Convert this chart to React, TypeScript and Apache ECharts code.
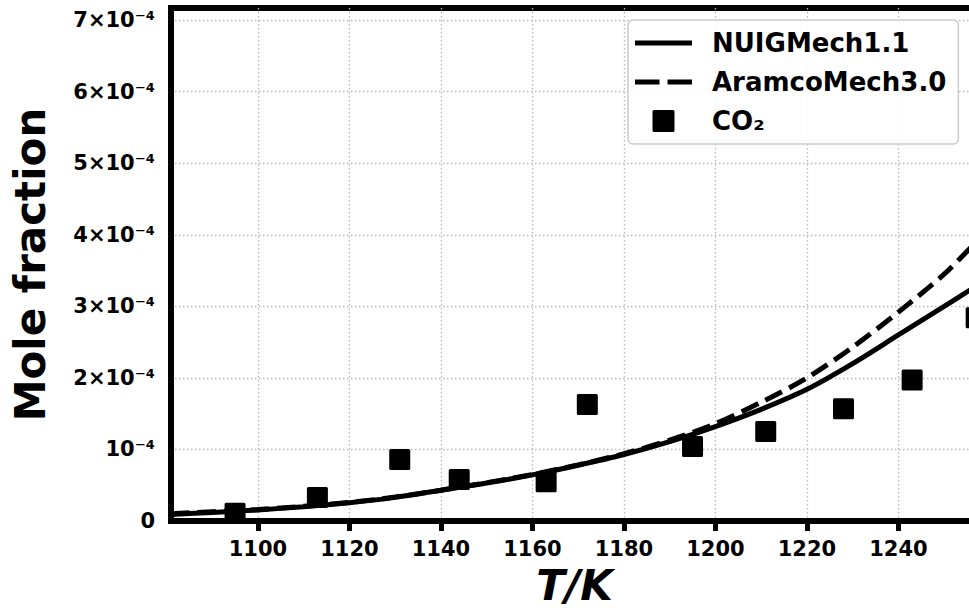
import React, { useEffect, useRef } from 'react';
import * as echarts from 'echarts';

// Model curves (temperature in K, mole fraction)
const modelT = [1081, 1090, 1100, 1110, 1120, 1130, 1140, 1150, 1160, 1170, 1180, 1190, 1200, 1210, 1220, 1230, 1240, 1250, 1257.4];
const nuigMech = [0.09e-4, 0.12e-4, 0.155e-4, 0.2e-4, 0.255e-4, 0.33e-4, 0.43e-4, 0.53e-4, 0.645e-4, 0.78e-4, 0.93e-4, 1.11e-4, 1.32e-4, 1.56e-4, 1.84e-4, 2.2e-4, 2.6e-4, 3.0e-4, 3.3e-4];
const aramcoMech = [0.1e-4, 0.13e-4, 0.16e-4, 0.205e-4, 0.26e-4, 0.335e-4, 0.43e-4, 0.535e-4, 0.65e-4, 0.785e-4, 0.94e-4, 1.13e-4, 1.36e-4, 1.66e-4, 2.0e-4, 2.43e-4, 2.92e-4, 3.45e-4, 3.93e-4];

// Experimental CO2
const co2T = [1095, 1113, 1131, 1144, 1163, 1172, 1195, 1211, 1228, 1243, 1257];
const co2 = [0.11e-4, 0.33e-4, 0.86e-4, 0.58e-4, 0.55e-4, 1.63e-4, 1.04e-4, 1.25e-4, 1.57e-4, 1.97e-4, 2.84e-4];

// Axes
const xTicks = [1100, 1120, 1140, 1160, 1180, 1200, 1220, 1240];
const yTicks = [0, 1e-4, 2e-4, 3e-4, 4e-4, 5e-4, 6e-4, 7e-4];
const yTickLabels = ['0', '10⁻⁴', '2×10⁻⁴', '3×10⁻⁴', '4×10⁻⁴', '5×10⁻⁴', '6×10⁻⁴', '7×10⁻⁴'];
const xRange = [1081, 1257.4];
const yRange = [0, 7.17e-4];

const seriesNames = ['NUIGMech1.1', 'AramcoMech3.0', 'CO₂'];

const FONT = 'DejaVu Sans';

// legend handle shapes (tiny corner specks fix the bounding box to 57x19)
const CORNERS = 'M0,0L0.01,0L0,0.01Z M57,19L56.99,19L57,18.99Z ';
const SOLID_ICON = 'path://' + CORNERS + 'M0,7L57,7L57,12L0,12Z';
const DASHED_ICON = 'path://' + CORNERS + 'M0,7L24.5,7L24.5,12L0,12Z M32.5,7L57,7L57,12L32.5,12Z';
const SQUARE_ICON = 'path://M0,0L10,0L10,10L0,10Z';

export default function App() {
  const ref = useRef<HTMLDivElement>(null);
  useEffect(() => {
    if (!ref.current) return;
    const chart = echarts.init(ref.current, undefined, { renderer: 'svg' });
    const gridLine = { show: true, lineStyle: { color: '#b8b8b8', width: 1.3, type: [1.5, 2.5] } };
    chart.setOption({
      animation: false,
      backgroundColor: '#ffffff',
      grid: {
        left: 171,
        right: 2,
        top: 8,
        bottom: 89,
        show: true,
        borderColor: '#000',
        borderWidth: 6,
        backgroundColor: 'transparent',
        containLabel: false,
        outerBoundsMode: 'none',
      },
      xAxis: {
        type: 'value',
        min: xRange[0],
        max: xRange[1],
        name: 'T/K',
        nameLocation: 'middle',
        nameGap: 46,
        nameTextStyle: { fontFamily: FONT, fontWeight: 'bold', fontStyle: 'italic', fontSize: 42, lineHeight: 36, color: '#000' },
        axisLine: { show: true, lineStyle: { color: '#000', width: 6 } },
        axisTick: { show: true, customValues: xTicks, length: 10, lineStyle: { color: '#000', width: 5 } },
        axisLabel: {
          customValues: xTicks,
          margin: 17,
          fontFamily: FONT,
          fontWeight: 'bold',
          fontSize: 21,
          color: '#000',
          formatter: (v: number) => String(Math.round(v)),
        },
        splitLine: gridLine,
      },
      yAxis: {
        type: 'value',
        min: yRange[0],
        max: yRange[1],
        name: 'Mole fraction',
        nameLocation: 'middle',
        nameGap: 120,
        nameTextStyle: { fontFamily: FONT, fontWeight: 'bold', fontSize: 42, color: '#000' },
        axisLine: { show: true, lineStyle: { color: '#000', width: 6 } },
        axisTick: { show: false, customValues: yTicks },
        axisLabel: {
          customValues: yTicks,
          margin: 16,
          fontFamily: FONT,
          fontWeight: 'bold',
          fontSize: 21,
          color: '#000',
          formatter: (v: number) => yTickLabels[Math.round(v / 1e-4)] ?? '',
        },
        splitLine: gridLine,
      },
      legend: {
        orient: 'vertical',
        left: 628,
        top: 20,
        padding: [10, 12, 10, 7],
        itemWidth: 57,
        itemHeight: 19,
        itemGap: 13,
        symbolKeepAspect: true,
        data: [
          { name: seriesNames[0], icon: SOLID_ICON, itemStyle: { color: '#000', borderWidth: 0 } },
          { name: seriesNames[1], icon: DASHED_ICON, itemStyle: { color: '#000', borderWidth: 0 } },
          { name: seriesNames[2], icon: SQUARE_ICON, itemStyle: { color: '#000', borderColor: '#000', borderWidth: 3, borderJoin: 'round' } },
        ],
        backgroundColor: 'rgba(255,255,255,0.85)',
        borderColor: '#cccccc',
        borderWidth: 1.5,
        borderRadius: 5,
        textStyle: { fontFamily: FONT, fontWeight: 'bold', fontSize: 26, color: '#000', padding: [0, 0, 0, 15] },
      },
      series: [
        {
          name: seriesNames[0],
          type: 'line',
          data: modelT.map((t, i) => [t, nuigMech[i]]),
          symbol: 'none',
          smooth: 0.3,
          lineStyle: { color: '#000', width: 5 },
          itemStyle: { color: '#000' },
          z: 3,
        },
        {
          name: seriesNames[1],
          type: 'line',
          data: modelT.map((t, i) => [t, aramcoMech[i]]),
          symbol: 'none',
          smooth: 0.3,
          lineStyle: { color: '#000', width: 5, type: [18.5, 8] },
          itemStyle: { color: '#000' },
          z: 3,
        },
        {
          name: seriesNames[2],
          type: 'scatter',
          data: co2T.map((t, i) => [t, co2[i]]),
          symbol: 'rect',
          symbolSize: 18,
          itemStyle: { color: '#000', borderColor: '#000', borderWidth: 3, borderJoin: 'round', opacity: 1 },
          clip: false,
          z: 4,
        },
      ],
    });
    return () => chart.dispose();
  }, []);
  return (
    <div style={{ position: 'absolute', left: 0, top: 0, width: 969, height: 610, overflow: 'hidden', background: '#fff' }}>
      <div ref={ref} style={{ width: 980, height: 610 }} />
    </div>
  );
}
